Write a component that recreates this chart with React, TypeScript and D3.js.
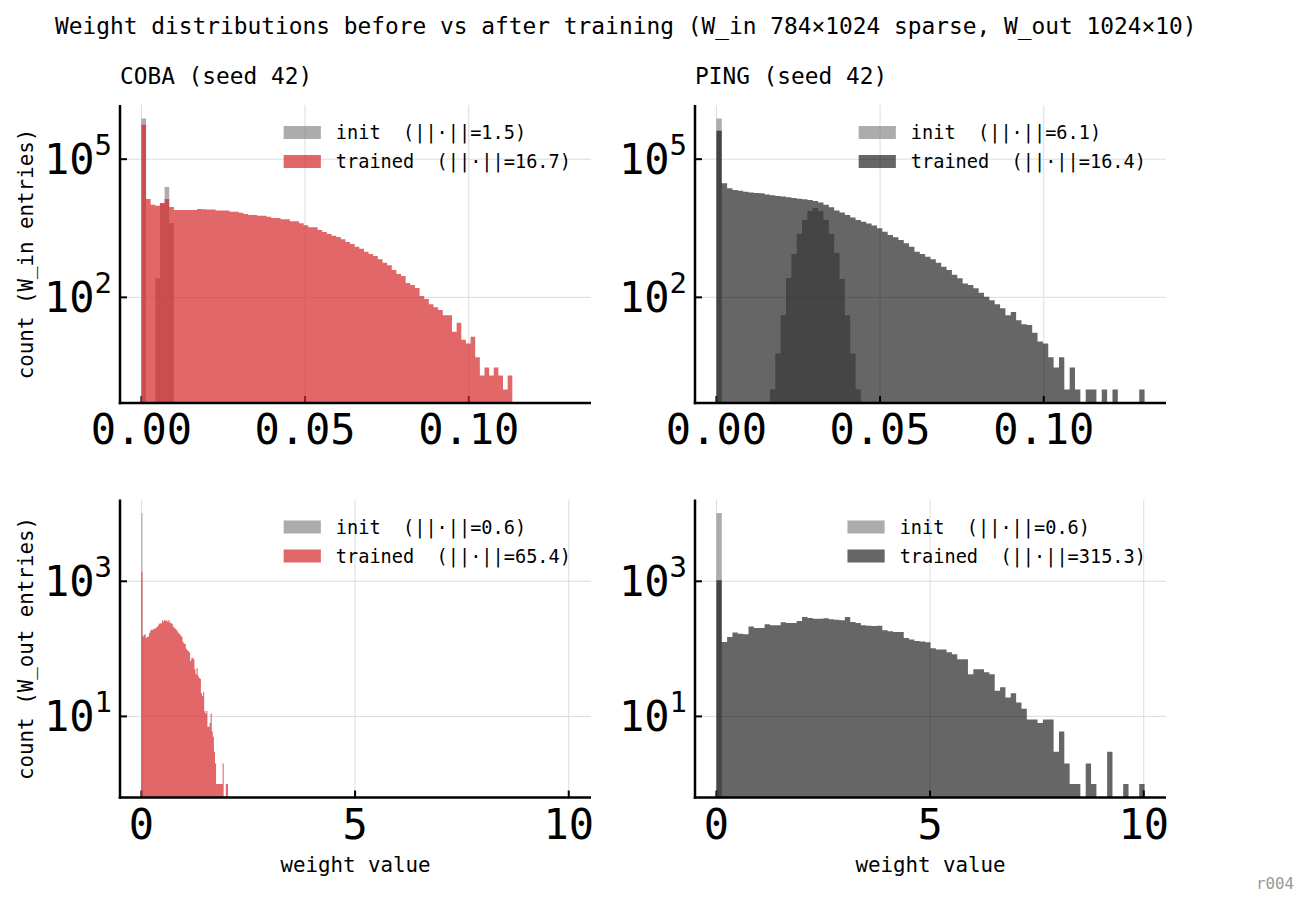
import React from 'react';
import * as d3 from 'd3';

const WIDTH = 1309;
const HEIGHT = 907;
const FONT = '"DejaVu Sans Mono", monospace';

// ---- histogram data (80 equal-width bins over each matrix's value range) ----
const cobaInRange: [number, number] = [0, 0.1133];
const pingInRange: [number, number] = [0, 0.1308];
const cobaOutRange: [number, number] = [0, 2.026];
const pingOutRange: [number, number] = [0, 10.02];

const cobaInInit = [
  762950, 0, 0, 263, 11200, 25000, 4100, 0, 0, 0,
  0, 0, 0, 0, 0, 0, 0, 0, 0, 0,
  0, 0, 0, 0, 0, 0, 0, 0, 0, 0,
  0, 0, 0, 0, 0, 0, 0, 0, 0, 0,
  0, 0, 0, 0, 0, 0, 0, 0, 0, 0,
  0, 0, 0, 0, 0, 0, 0, 0, 0, 0,
  0, 0, 0, 0, 0, 0, 0, 0, 0, 0,
  0, 0, 0, 0, 0, 0, 0, 0, 0, 0,
];
const cobaInTrained = [
  556000, 13700, 10200, 9700, 11000, 13700, 9200, 7900, 7900, 7900,
  7900, 7900, 8300, 8200, 8050, 8050, 7650, 7650, 7650, 7260,
  7260, 6900, 6470, 6150, 6150, 5940, 5940, 5650, 5290, 5290,
  4960, 4960, 4490, 4490, 4060, 3670, 3320, 3320, 2900, 2630,
  2380, 2180, 2050, 1820, 1590, 1440, 1260, 1140, 980, 873,
  790, 670, 565, 496, 392, 321, 290, 205, 185, 159,
  107, 92, 71, 61, 53, 41, 41, 18, 28, 12,
  10, 14, 5, 2, 3, 2, 3, 2, 1, 2,
];
const pingInInit = [
  762306, 0, 0, 0, 0, 0, 0, 0, 0, 0,
  1, 6, 41, 263, 873, 2380, 4790, 7520, 8730, 7520,
  4790, 2380, 918, 250, 41, 6, 1, 0, 0, 0,
  0, 0, 0, 0, 0, 0, 0, 0, 0, 0,
  0, 0, 0, 0, 0, 0, 0, 0, 0, 0,
  0, 0, 0, 0, 0, 0, 0, 0, 0, 0,
  0, 0, 0, 0, 0, 0, 0, 0, 0, 0,
  0, 0, 0, 0, 0, 0, 0, 0, 0, 0,
];
const pingInTrained = [
  412000, 30000, 23400, 21500, 20500, 19500, 18800, 18500, 18200, 17000,
  16500, 15900, 15400, 14900, 14400, 13900, 13500, 13000, 12400, 11400,
  10200, 9040, 7650, 6920, 6150, 5390, 4790, 4400, 3990, 3610,
  3160, 2670, 2260, 2010, 1760, 1490, 1260, 982, 873, 764,
  669, 566, 463, 392, 310, 259, 201, 185, 157, 126,
  103, 87, 71, 58, 41, 48, 32, 26, 25, 17,
  11, 10, 5, 3, 5, 1, 3, 1, 0, 1,
  1, 0, 1, 0, 1, 0, 0, 0, 0, 1,
];
const cobaOutInit = [
  10240, 0, 0, 0, 0, 0, 0, 0, 0, 0,
  0, 0, 0, 0, 0, 0, 0, 0, 0, 0,
  0, 0, 0, 0, 0, 0, 0, 0, 0, 0,
  0, 0, 0, 0, 0, 0, 0, 0, 0, 0,
  0, 0, 0, 0, 0, 0, 0, 0, 0, 0,
  0, 0, 0, 0, 0, 0, 0, 0, 0, 0,
  0, 0, 0, 0, 0, 0, 0, 0, 0, 0,
  0, 0, 0, 0, 0, 0, 0, 0, 0, 0,
];
const cobaOutTrained = [
  1370, 152, 160, 165, 145, 150, 152, 172, 185, 193,
  190, 200, 196, 206, 210, 222, 235, 240, 238, 262,
  255, 270, 258, 265, 250, 268, 245, 240, 236, 215,
  205, 198, 192, 180, 172, 164, 158, 150, 126, 120,
  118, 100, 95, 92, 88, 66, 72, 74, 70, 50,
  42, 52, 40, 37, 36, 22, 20, 23, 12, 11,
  12, 7, 7, 8, 11, 6, 5, 3, 2, 1,
  1, 1, 1, 1, 1, 2, 0, 0, 1, 1,
];
const pingOutInit = [
  10240, 0, 0, 0, 0, 0, 0, 0, 0, 0,
  0, 0, 0, 0, 0, 0, 0, 0, 0, 0,
  0, 0, 0, 0, 0, 0, 0, 0, 0, 0,
  0, 0, 0, 0, 0, 0, 0, 0, 0, 0,
  0, 0, 0, 0, 0, 0, 0, 0, 0, 0,
  0, 0, 0, 0, 0, 0, 0, 0, 0, 0,
  0, 0, 0, 0, 0, 0, 0, 0, 0, 0,
  0, 0, 0, 0, 0, 0, 0, 0, 0, 0,
];
const pingOutTrained = [
  1035, 126, 150, 174, 168, 164, 215, 204, 204, 231,
  223, 223, 247, 242, 242, 258, 296, 287, 280, 280,
  283, 274, 270, 264, 296, 250, 242, 223, 220, 218,
  220, 188, 182, 177, 177, 145, 137, 131, 129, 125,
  102, 98, 98, 89, 83, 70, 70, 42, 50, 50,
  45, 42, 24, 27, 19, 22, 16, 13, 9, 9,
  8, 9, 9, 3, 6, 2, 1, 1, 0, 2,
  1, 0, 0, 3, 0, 0, 1, 0, 0, 1,
];

// ---- labels ----
const figTitle = 'Weight distributions before vs after training (W_in 784×1024 sparse, W_out 1024×10)';
const panelTitles = ['COBA (seed 42)', 'PING (seed 42)'];
const rowYLabels = ['count (W_in entries)', 'count (W_out entries)'];
const xAxisLabel = 'weight value';
const topXTicks = [0, 0.05, 0.1];
const bottomXTicks = [0, 5, 10];
const topYTicks = [1e2, 1e5];
const bottomYTicks = [1e1, 1e3];
const initNorms = ['1.5', '6.1', '0.6', '0.6'];
const trainedNorms = ['16.7', '16.4', '65.4', '315.3'];
const runTag = 'r004';

// ---- styles ----
const INIT_STYLE = { fill: '#808080', opacity: 0.65 };
const COBA_STYLE = { fill: '#d62728', opacity: 0.7 };
const PING_STYLE = { fill: '#000000', opacity: 0.6 };

const COL_LEFT = [120, 695];
const ROW_TOP = [105, 499.5];
const AX_W = 471;
const AX_H = 298;

type Hist = { counts: number[]; range: [number, number]; fill: string; opacity: number; label: string };

// One path per histogram so touching translucent bars show no seams
function histPath(h: Hist, x: d3.ScaleLinear<number, number>, y: d3.ScaleLogarithmic<number, number>) {
  const n = h.counts.length;
  const edges = d3.range(n + 1).map((i) => h.range[0] + ((h.range[1] - h.range[0]) * i) / n);
  const base = y.range()[0];
  const p = d3.path();
  h.counts.forEach((c, i) => {
    if (c <= 0) return;
    const xa = x(edges[i]);
    const xb = x(edges[i + 1]);
    const yt = y(c);
    p.rect(xa, yt, xb - xa, base - yt);
  });
  return p.toString();
}

function xDomainFor(ranges: [number, number][]): [number, number] {
  const lo = d3.min(ranges, (r) => r[0]) as number;
  const hi = d3.max(ranges, (r) => r[1]) as number;
  const pad = (hi - lo) * 0.05;
  return [lo - pad, hi + pad];
}

function yDomainFor(hists: Hist[]): [number, number] {
  const all = hists.flatMap((h) => h.counts).filter((c) => c > 0);
  const lo = Math.log10(d3.min(all) as number);
  const hi = Math.log10(d3.max(all) as number);
  const pad = (hi - lo) * 0.05;
  return [Math.pow(10, lo - pad), Math.pow(10, hi + pad)];
}

type PanelProps = {
  left: number;
  top: number;
  xDomain: [number, number];
  xTicks: number[];
  xFmt: (v: number) => string;
  yTicks: number[];
  hists: Hist[];
  title?: string;
  xLabel?: string;
};

function Panel({ left, top, xDomain, xTicks, xFmt, yTicks, hists, title, xLabel }: PanelProps) {
  const x = d3.scaleLinear().domain(xDomain).range([left, left + AX_W]);
  const y = d3.scaleLog().domain(yDomainFor(hists)).range([top + AX_H, top]);
  const bottom = top + AX_H;
  const right = left + AX_W;

  const legFs = 18.6;
  const charW = 0.602 * legFs;
  const maxLen = d3.max(hists, (h) => h.label.length) as number;
  const textX = right - 20 - maxLen * charW;
  const patchW = 2 * legFs;
  const patchH = 0.7 * legFs;

  return (
    <g>
      {/* grid */}
      {xTicks.map((t) => (
        <line key={'gx' + t} x1={x(t)} x2={x(t)} y1={top} y2={bottom} stroke="#dcdcdc" strokeWidth={1} />
      ))}
      {yTicks.map((t) => (
        <line key={'gy' + t} x1={left} x2={right} y1={y(t)} y2={y(t)} stroke="#dcdcdc" strokeWidth={1} />
      ))}
      {/* inward tick marks */}
      {xTicks.map((t) => (
        <line key={'tx' + t} x1={x(t)} x2={x(t)} y1={bottom} y2={bottom - 7} stroke="#000" strokeWidth={2} />
      ))}
      {yTicks.map((t) => (
        <line key={'ty' + t} x1={left} x2={left + 7} y1={y(t)} y2={y(t)} stroke="#000" strokeWidth={2} />
      ))}
      {/* histograms */}
      {hists.map((h, i) => (
        <path key={'h' + i} d={histPath(h, x, y)} fill={h.fill} fillOpacity={h.opacity} />
      ))}
      {/* spines */}
      <line x1={left} x2={left} y1={top} y2={bottom + 1.25} stroke="#000" strokeWidth={2.5} />
      <line x1={left - 1.25} x2={right} y1={bottom} y2={bottom} stroke="#000" strokeWidth={2.5} />
      {/* tick labels */}
      {xTicks.map((t) => (
        <text key={'lx' + t} x={x(t)} y={bottom + 41} textAnchor="middle" fontSize={42} fontFamily={FONT} fill="#000">
          {xFmt(t)}
        </text>
      ))}
      {yTicks.map((t) => (
        <text key={'ly' + t} x={left - 8} y={y(t) + 15} textAnchor="end" fontSize={42} fontFamily={FONT} fill="#000">
          10
          <tspan fontSize={29} dy={-19}>
            {String(Math.round(Math.log10(t)))}
          </tspan>
        </text>
      ))}
      {/* legend */}
      {hists.map((h, i) => {
        const cy = top + 27.5 + i * 29;
        return (
          <g key={'lg' + i}>
            <rect x={textX - 15 - patchW} y={cy - patchH / 2} width={patchW} height={patchH} fill={h.fill} fillOpacity={h.opacity} />
            <text x={textX} y={cy + 6.5} fontSize={legFs} fontFamily={FONT} fill="#000" style={{ whiteSpace: 'pre' }}>
              {h.label}
            </text>
          </g>
        );
      })}
      {title && (
        <text x={left} y={top - 21} fontSize={22.8} fontFamily={FONT} fill="#000">
          {title}
        </text>
      )}
      {xLabel && (
        <text x={left + AX_W / 2} y={872} textAnchor="middle" fontSize={20.8} fontFamily={FONT} fill="#000">
          {xLabel}
        </text>
      )}
    </g>
  );
}

const legendLabel = (name: string, norm: string) => `${name}  (||·||=${norm})`;

export default function App() {
  const topX = xDomainFor([cobaInRange, pingInRange]);
  const botX = xDomainFor([cobaOutRange, pingOutRange]);
  const fmt2 = d3.format('.2f');
  const fmt0 = d3.format('d');

  const panels: PanelProps[] = [
    {
      left: COL_LEFT[0], top: ROW_TOP[0], xDomain: topX, xTicks: topXTicks, xFmt: fmt2, yTicks: topYTicks, title: panelTitles[0],
      hists: [
        { counts: cobaInInit, range: cobaInRange, ...INIT_STYLE, label: legendLabel('init', initNorms[0]) },
        { counts: cobaInTrained, range: cobaInRange, ...COBA_STYLE, label: legendLabel('trained', trainedNorms[0]) },
      ],
    },
    {
      left: COL_LEFT[1], top: ROW_TOP[0], xDomain: topX, xTicks: topXTicks, xFmt: fmt2, yTicks: topYTicks, title: panelTitles[1],
      hists: [
        { counts: pingInInit, range: pingInRange, ...INIT_STYLE, label: legendLabel('init', initNorms[1]) },
        { counts: pingInTrained, range: pingInRange, ...PING_STYLE, label: legendLabel('trained', trainedNorms[1]) },
      ],
    },
    {
      left: COL_LEFT[0], top: ROW_TOP[1], xDomain: botX, xTicks: bottomXTicks, xFmt: fmt0, yTicks: bottomYTicks, xLabel: xAxisLabel,
      hists: [
        { counts: cobaOutInit, range: cobaOutRange, ...INIT_STYLE, label: legendLabel('init', initNorms[2]) },
        { counts: cobaOutTrained, range: cobaOutRange, ...COBA_STYLE, label: legendLabel('trained', trainedNorms[2]) },
      ],
    },
    {
      left: COL_LEFT[1], top: ROW_TOP[1], xDomain: botX, xTicks: bottomXTicks, xFmt: fmt0, yTicks: bottomYTicks, xLabel: xAxisLabel,
      hists: [
        { counts: pingOutInit, range: pingOutRange, ...INIT_STYLE, label: legendLabel('init', initNorms[3]) },
        { counts: pingOutTrained, range: pingOutRange, ...PING_STYLE, label: legendLabel('trained', trainedNorms[3]) },
      ],
    },
  ];

  return (
    <svg
      width={WIDTH}
      height={HEIGHT}
      viewBox={`0 0 ${WIDTH} ${HEIGHT}`}
      style={{ position: 'absolute', left: 0, top: 0, background: '#fff' }}
    >
      <rect x={0} y={0} width={WIDTH} height={HEIGHT} fill="#fff" />
      <text x={55} y={34} fontSize={22.85} fontFamily={FONT} fill="#000">
        {figTitle}
      </text>
      {rowYLabels.map((lab, r) => {
        const cy = ROW_TOP[r] + AX_H / 2;
        return (
          <text
            key={lab}
            transform={`translate(33,${cy}) rotate(-90)`}
            textAnchor="middle"
            fontSize={20.8}
            fontFamily={FONT}
            fill="#000"
          >
            {lab}
          </text>
        );
      })}
      {panels.map((p, i) => (
        <Panel key={i} {...p} />
      ))}
      <text x={1294} y={889} textAnchor="end" fontSize={15.8} fontFamily={FONT} fill="#999">
        {runTag}
      </text>
    </svg>
  );
}
